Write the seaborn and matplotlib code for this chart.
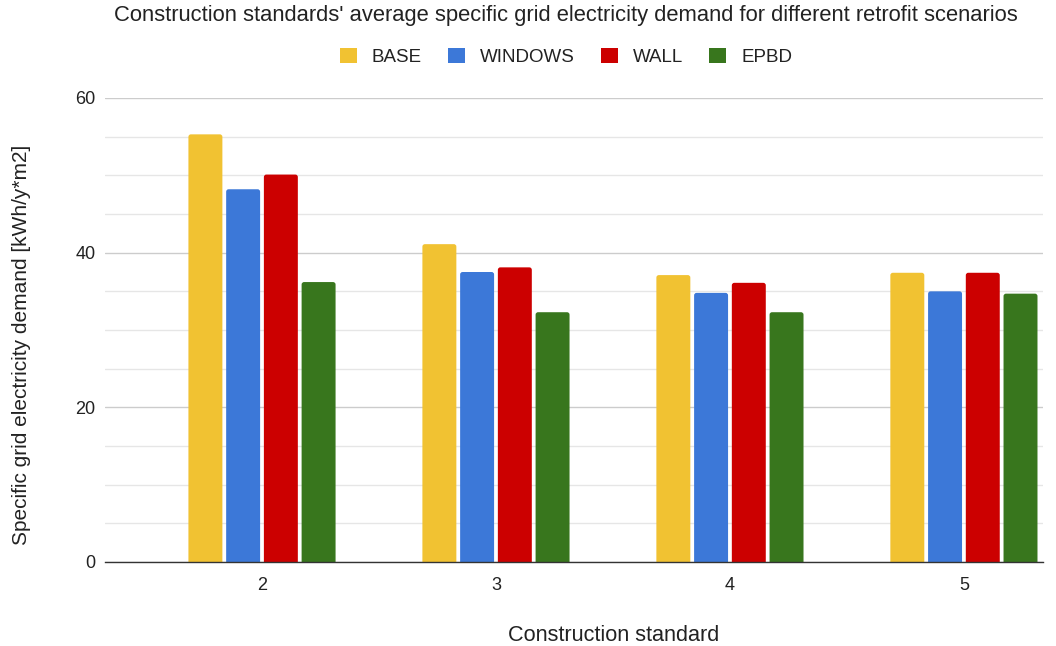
import matplotlib
matplotlib.use("Agg")
import matplotlib.pyplot as plt
from matplotlib.ticker import MultipleLocator
from matplotlib.patches import FancyBboxPatch, Patch
import seaborn as sns
import pandas as pd

# Average specific grid electricity demand per construction standard
standards = ["2", "3", "4", "5"]
scenarios = ["BASE", "WINDOWS", "WALL", "EPBD"]
base = [55.3, 41.1, 37.1, 37.4]
windows = [48.2, 37.5, 34.8, 35.0]
wall = [50.1, 38.1, 36.1, 37.4]
epbd = [36.2, 32.3, 32.3, 34.7]
colors = ["#F1C232", "#3C78D8", "#CC0000", "#38761D"]

df = pd.DataFrame({
    "standard": standards * 4,
    "scenario": [s for s in scenarios for _ in standards],
    "value": base + windows + wall + epbd,
})

sns.set_theme(style="white")
plt.rcParams["font.family"] = ["Liberation Sans", "DejaVu Sans"]

fig = plt.figure(figsize=(10.56, 6.46), dpi=100)
ax = fig.add_axes([105 / 1056, 1 - 562 / 646, (1043 - 105) / 1056, (562 - 98) / 646])

sns.barplot(data=df, x="standard", y="value", hue="scenario",
            hue_order=scenarios, palette=colors, width=0.645, gap=0.1,
            saturation=1, ax=ax, legend=False, zorder=3)

ax.set_ylim(0, 60)
ax.set_xlim(-0.671, 3.338)

# Give the bars slightly rounded top corners (the bottom is hidden under the axis)
px_x = (ax.get_xlim()[1] - ax.get_xlim()[0]) / (1043 - 105)
px_y = 60 / (562 - 98)
for bar in list(ax.patches):
    x, y = bar.get_x(), bar.get_y()
    w, h = bar.get_width(), bar.get_height()
    rounded = FancyBboxPatch((x, y - 1), w, h + 1,
                             boxstyle=f"round,pad=0,rounding_size={2.5 * px_x}",
                             mutation_aspect=px_y / px_x,
                             facecolor=bar.get_facecolor(), linewidth=0, zorder=3)
    ax.add_patch(rounded)
    bar.set_visible(False)

ax.yaxis.set_major_locator(MultipleLocator(20))
ax.yaxis.set_minor_locator(MultipleLocator(5))
ax.grid(axis="y", which="major", color="#cccccc", linewidth=1, zorder=0)
ax.grid(axis="y", which="minor", color="#e6e6e6", linewidth=1, zorder=0)
ax.set_axisbelow(True)
for side in ["left", "right", "top"]:
    ax.spines[side].set_visible(False)
ax.spines["bottom"].set_color("#333333")
ax.spines["bottom"].set_linewidth(1)
ax.spines["bottom"].set_zorder(5)
ax.tick_params(axis="y", which="both", length=0, pad=7, labelsize=13, labelcolor="#222222")
ax.tick_params(axis="x", length=0, pad=11, labelsize=13, labelcolor="#222222")
ax.set_xlabel("")
ax.set_ylabel("")

fig.text(22 / 1056, 1 - 345 / 646, "Specific grid electricity demand [kWh/y*m2]",
         rotation=90, ha="center", va="center", fontsize=15, color="#222222")
fig.text(613.5 / 1056, 1 - 641 / 646, "Construction standard",
         ha="center", va="baseline", fontsize=15.6, color="#222222")
fig.text(565.5 / 1056, 1 - 21 / 646,
         "Construction standards' average specific grid electricity demand for different retrofit scenarios",
         ha="center", va="baseline", fontsize=15.8, color="#222222")

handles = [Patch(facecolor=c, linewidth=0) for c in colors]
ax.legend(handles, scenarios, loc="center", bbox_to_anchor=(566 / 1056, 1 - 57 / 646),
          bbox_transform=fig.transFigure, ncol=4, frameon=False, fontsize=13.5,
          handlelength=0.9, handleheight=0.9, handletextpad=0.8, columnspacing=1.4,
          labelcolor="#222222")

fig.savefig("out.png", dpi=100)
